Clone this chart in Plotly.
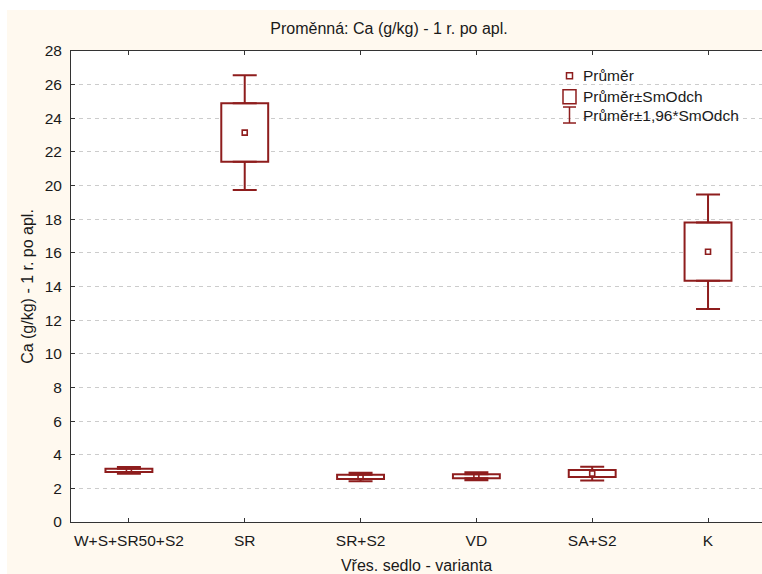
import plotly.graph_objects as go

# ---- data ----
categories = ["W+S+SR50+S2", "SR", "SR+S2", "VD", "SA+S2", "K"]
means = [3.07, 23.15, 2.68, 2.72, 2.88, 16.07]
sds = [0.10, 1.74, 0.13, 0.12, 0.21, 1.735]
z_factor = 1.96
y_ticks = list(range(0, 29, 2))

title_text = "Proměnná: Ca (g/kg) - 1 r. po apl."
x_title = "Vřes. sedlo - varianta"
y_title = "Ca (g/kg) - 1 r. po apl."
legend_labels = ["Průměr", "Průměr±SmOdch", "Průměr±1,96*SmOdch"]

# ---- style ----
RED = "#8E1D1D"
CREAM = "#FFF9EF"
AXIS = "#333333"
GRID = "#CCCCCC"
TXT = "#1a1a1a"
FONT = "Liberation Sans, Arial, sans-serif"
OFF_X, OFF_Y = 7, 10          # white page border left / top
W, H = 762 - OFF_X, 574 - OFF_Y

xs = list(range(len(categories)))
box_low = [m - s for m, s in zip(means, sds)]
box_high = [m + s for m, s in zip(means, sds)]
box_h = [2 * s for s in sds]
whisk_ext = [(z_factor - 1) * s for s in sds]

fig = go.Figure()

# boxes: mean ± SD
fig.add_trace(go.Bar(
    x=xs, y=box_h, base=box_low, width=0.405,
    marker=dict(color="white", line=dict(color=RED, width=2)),
    showlegend=False, hoverinfo="skip",
))

# upper whiskers (from box top to mean + 1.96 SD)
fig.add_trace(go.Scatter(
    x=xs, y=box_high, mode="markers",
    marker=dict(size=1, color="rgba(0,0,0,0)"),
    error_y=dict(type="data", symmetric=False, array=whisk_ext,
                 arrayminus=[0] * len(xs), color=RED, thickness=2, width=12),
    showlegend=False, hoverinfo="skip",
))
# lower whiskers
fig.add_trace(go.Scatter(
    x=xs, y=box_low, mode="markers",
    marker=dict(size=1, color="rgba(0,0,0,0)"),
    error_y=dict(type="data", symmetric=False, array=[0] * len(xs),
                 arrayminus=whisk_ext, color=RED, thickness=2, width=12),
    showlegend=False, hoverinfo="skip",
))
# means
fig.add_trace(go.Scatter(
    x=xs, y=means, mode="markers",
    marker=dict(symbol="square-open", size=5, color=RED, line=dict(width=1.6, color=RED)),
    showlegend=False,
))

# ---- manual legend ----
lx = 0.7395
ly = [0.9476, 0.903, 0.8641]
common = dict(xref="paper", yref="paper", xsizemode="pixel", ysizemode="pixel", xanchor=lx)
shapes = [
    dict(type="rect", yanchor=ly[0], x0=-15.5, x1=-9.5, y0=-3, y1=3,
         line=dict(color=RED, width=1.5), fillcolor="white", **common),
    dict(type="rect", yanchor=ly[1], x0=-19, x1=-6, y0=-7, y1=7,
         line=dict(color=RED, width=1.5), fillcolor="white", **common),
    dict(type="line", yanchor=ly[2], x0=-12.5, x1=-12.5, y0=-8, y1=8,
         line=dict(color=RED, width=1.5), **common),
    dict(type="line", yanchor=ly[2], x0=-19, x1=-6, y0=8, y1=8,
         line=dict(color=RED, width=1.5), **common),
    dict(type="line", yanchor=ly[2], x0=-19, x1=-6, y0=-8, y1=-8,
         line=dict(color=RED, width=1.5), **common),
]
annotations = [
    dict(x=lx, y=yy, xref="paper", yref="paper", text=t, showarrow=False,
         xanchor="left", yanchor="middle", xshift=-1,
         font=dict(size=15.5, color=TXT, family=FONT))
    for t, yy in zip(legend_labels, ly)
]

fig.update_layout(
    width=W, height=H,
    paper_bgcolor=CREAM, plot_bgcolor="white",
    margin=dict(l=64, r=0, t=41, b=52),
    font=dict(family=FONT, size=15.5, color=TXT),
    title=dict(text=title_text, x=382 / W, xref="container", xanchor="center",
               y=1 - 18 / H, yref="container", yanchor="middle",
               font=dict(size=16)),
    showlegend=False,
    barmode="overlay",
    shapes=shapes,
    annotations=annotations,
)
fig.update_xaxes(
    range=[-0.5, 5.466], tickvals=xs, ticktext=categories,
    showline=True, linecolor=AXIS, linewidth=1, mirror="ticks",
    ticks="inside", ticklen=4, tickcolor=AXIS, ticklabelstandoff=4,
    showgrid=False, zeroline=False,
    title=dict(text=x_title, standoff=12, font=dict(size=16)),
)
fig.update_yaxes(
    range=[0, 28], tickvals=y_ticks,
    showline=True, linecolor=AXIS, linewidth=1, mirror=False,
    ticks="inside", ticklen=4, tickcolor=AXIS, ticklabelstandoff=5,
    showgrid=True, gridcolor=GRID, griddash="4px,4px", gridwidth=1,
    zeroline=False,
    title=dict(text=y_title, standoff=7, font=dict(size=16)),
)

page_css = (
    "document.body.style.margin='%dpx 0 0 %dpx';"
    "document.body.style.padding='0';"
    "document.body.style.background='white';"
    "document.documentElement.style.overflow='hidden';" % (OFF_Y, OFF_X)
)
fig.write_html("out.html", post_script=page_css)
